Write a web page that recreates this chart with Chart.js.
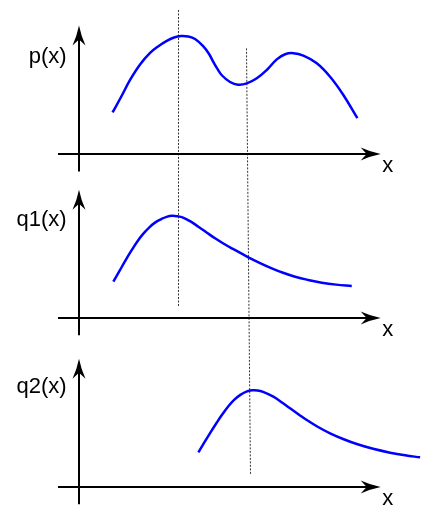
<!DOCTYPE html>
<html>
<head>
<meta charset="utf-8">
<script src="https://cdn.jsdelivr.net/npm/chart.js@4.4.1/dist/chart.umd.min.js"></script>
<style>
  html, body { margin: 0; padding: 0; background: #fff; }
  canvas { display: block; }
</style>
</head>
<body>
<canvas id="myChart" width="426" height="519"></canvas>
<script>
// curve samples (x in axis units, y in panel units)
const pX  = [1.125, 1.407, 1.705, 2.036, 2.367, 2.632, 2.920, 3.161, 3.393, 3.625, 3.856, 4.131, 4.320, 4.452, 4.585, 4.750, 5.015, 5.280, 5.568, 5.899, 6.230, 6.561, 6.836, 7.110, 7.441, 7.885, 8.325, 8.765, 9.229];
const pY  = [0.346, 0.475, 0.617, 0.746, 0.842, 0.896, 0.942, 0.971, 0.983, 0.979, 0.958, 0.896, 0.833, 0.771, 0.713, 0.654, 0.600, 0.577, 0.588, 0.631, 0.700, 0.788, 0.831, 0.840, 0.819, 0.756, 0.644, 0.492, 0.298];
const q1X = [1.152, 1.351, 1.549, 1.748, 1.946, 2.145, 2.344, 2.542, 2.741, 2.913, 3.095, 3.277, 3.459, 3.691, 3.966, 4.237, 4.518, 4.793, 5.071, 5.621, 6.008, 6.395, 6.769, 7.167, 7.597, 8.050, 8.524, 9.043];
const q1Y = [0.303, 0.390, 0.478, 0.561, 0.638, 0.703, 0.756, 0.797, 0.825, 0.843, 0.852, 0.848, 0.837, 0.807, 0.761, 0.713, 0.664, 0.621, 0.581, 0.506, 0.458, 0.414, 0.377, 0.344, 0.317, 0.294, 0.278, 0.267];
const q2X = [3.966, 4.164, 4.363, 4.561, 4.760, 4.959, 5.157, 5.356, 5.554, 5.743, 5.925, 6.107, 6.448, 6.720, 7.001, 7.276, 7.554, 7.928, 8.325, 8.755, 9.209, 9.749, 10.311, 10.808, 11.304];
const q2Y = [0.289, 0.371, 0.453, 0.531, 0.606, 0.673, 0.728, 0.768, 0.795, 0.806, 0.805, 0.793, 0.753, 0.707, 0.656, 0.607, 0.558, 0.500, 0.447, 0.400, 0.358, 0.318, 0.286, 0.264, 0.247];

// dotted guide lines (top / bottom x)
const guideTopX    = [3.28, 5.55];
const guideBottomX = [3.30, 5.68];

const panelLabels = ['p(x)', 'q1(x)', 'q2(x)'];
const axisLabel = 'x';

const panelIds = ['y1', 'y2', 'y3'];

function toPoints(xs, ys) {
  return xs.map(function (v, i) { return {x: v, y: ys[i]}; });
}

function arrowHead(ctx, tx, ty, dx, dy) {
  // swept arrow head, tip at (tx,ty), pointing along (dx,dy)
  const L = 20, W = 6.5;
  const px = -dy, py = dx;
  ctx.beginPath();
  ctx.moveTo(tx, ty);
  ctx.quadraticCurveTo(tx - dx * 10 + px * 2, ty - dy * 10 + py * 2, tx - dx * L + px * W, ty - dy * L + py * W);
  ctx.lineTo(tx - dx * 14, ty - dy * 14);
  ctx.lineTo(tx - dx * L - px * W, ty - dy * L - py * W);
  ctx.quadraticCurveTo(tx - dx * 10 - px * 2, ty - dy * 10 - py * 2, tx, ty);
  ctx.closePath();
  ctx.fill();
}

const sketchAxes = {
  id: 'sketchAxes',
  beforeDatasetsDraw(chart, args, opts) {
    const ctx = chart.ctx;
    const xs = chart.scales.x;
    ctx.save();

    // guides
    ctx.strokeStyle = '#333';
    ctx.lineWidth = 1;
    ctx.setLineDash([2, 1.5]);
    guideTopX.forEach(function (gx, i) {
      const g = opts.guides[i];
      ctx.beginPath();
      ctx.moveTo(Math.round(xs.getPixelForValue(gx)) + 0.5, chart.scales[g.from[0]].getPixelForValue(g.from[1]));
      ctx.lineTo(Math.round(xs.getPixelForValue(guideBottomX[i])) + 0.5, chart.scales[g.to[0]].getPixelForValue(g.to[1]));
      ctx.stroke();
    });
    ctx.setLineDash([]);

    // axes with arrows
    ctx.strokeStyle = '#000';
    ctx.fillStyle = '#000';
    ctx.lineWidth = 2;
    panelIds.forEach(function (id) {
      const ys = chart.scales[id];
      const x0 = Math.round(xs.getPixelForValue(0));
      const y0 = Math.round(ys.getPixelForValue(0));
      const xEnd = xs.getPixelForValue(opts.xAxisEnd);
      const yTop = ys.getPixelForValue(opts.yAxisTop);

      ctx.beginPath();
      ctx.moveTo(xs.getPixelForValue(opts.xAxisStart), y0);
      ctx.lineTo(xEnd - 12, y0);
      ctx.moveTo(x0, ys.getPixelForValue(opts.yAxisBottom));
      ctx.lineTo(x0, yTop + 12);
      ctx.stroke();
      arrowHead(ctx, xEnd, y0, 1, 0);
      arrowHead(ctx, x0, yTop, 0, -1);
    });
    ctx.restore();
  },
  afterDatasetsDraw(chart, args, opts) {
    const ctx = chart.ctx;
    const xs = chart.scales.x;
    ctx.save();
    ctx.fillStyle = '#000';
    ctx.font = '22px "Liberation Sans", Arial, sans-serif';
    ctx.textBaseline = 'alphabetic';
    panelIds.forEach(function (id, i) {
      const ys = chart.scales[id];
      const x0 = xs.getPixelForValue(0);
      const y0 = ys.getPixelForValue(0);
      ctx.textAlign = 'right';
      ctx.fillText(panelLabels[i], x0 - 12, ys.getPixelForValue(opts.labelAt[i]));
      ctx.textAlign = 'center';
      ctx.fillText(axisLabel, xs.getPixelForValue(opts.xAxisEnd) + 7, y0 + 18);
    });
    ctx.restore();
  }
};

const curveStyle = {
  borderColor: '#0000ff',
  borderWidth: 2.5,
  pointRadius: 0,
  fill: false,
  tension: 0.4,
  xAxisID: 'x'
};

const ctx = document.getElementById('myChart').getContext('2d');
const myChart = new Chart(ctx, {
  type: 'line',
  data: {
    datasets: [
      Object.assign({label: panelLabels[0], data: toPoints(pX, pY), yAxisID: 'y1'}, curveStyle),
      Object.assign({label: panelLabels[1], data: toPoints(q1X, q1Y), yAxisID: 'y2'}, curveStyle),
      Object.assign({label: panelLabels[2], data: toPoints(q2X, q2Y), yAxisID: 'y3'}, curveStyle)
    ]
  },
  options: {
    responsive: false,
    animation: false,
    layout: { padding: 0 },
    plugins: {
      legend: { display: false },
      tooltip: { enabled: false },
      sketchAxes: {
        xAxisStart: -0.68,
        xAxisEnd: 10.0,
        yAxisBottom: -0.145,
        yAxisTop: 1.07,
        labelAt: [0.76, 0.77, 0.78],
        guides: [
          { from: ['y1', 1.2], to: ['y2', 0.09] },
          { from: ['y1', 0.88], to: ['y3', 0.10] }
        ]
      }
    },
    scales: {
      x: { type: 'linear', min: -2.6, max: 11.5, display: false },
      y1: { type: 'linear', position: 'right', stack: 'panels', stackWeight: 172, min: -0.15, max: 1.283, display: false },
      y2: { type: 'linear', position: 'right', stack: 'panels', stackWeight: 166, min: -0.167, max: 1.217, display: false },
      y3: { type: 'linear', position: 'right', stack: 'panels', stackWeight: 181, min: -0.267, max: 1.242, display: false }
    }
  },
  plugins: [sketchAxes]
});
</script>
</body>
</html>
